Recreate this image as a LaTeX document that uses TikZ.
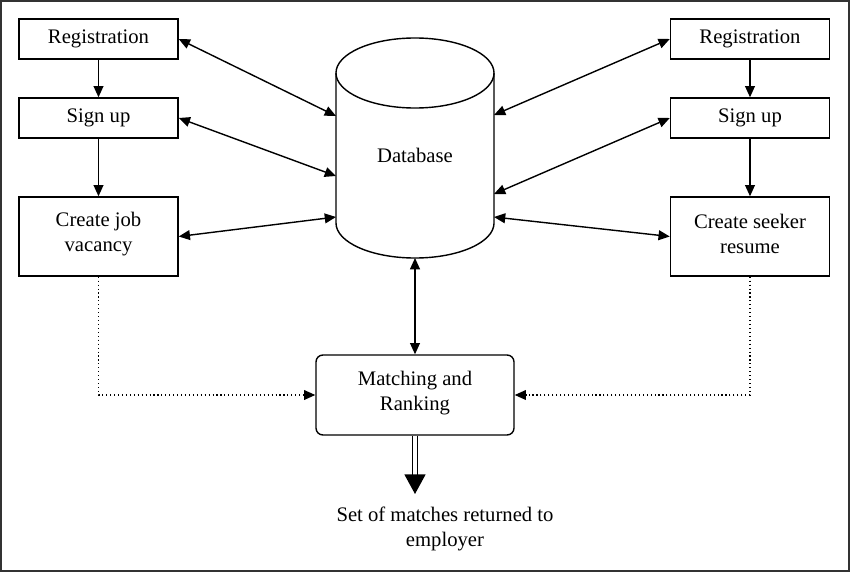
\documentclass[tikz,border=0pt]{standalone}
\usepackage{fontspec}
\setmainfont{Liberation Serif}
\usetikzlibrary{arrows.meta}

\tikzset{
  box/.style={draw, line width=1pt, minimum width=3.975cm, minimum height=1cm, align=center, inner sep=0pt},
  bigbox/.style={box, minimum height=1.975cm},
  link/.style={line width=1pt, {Triangle[length=8pt,width=7pt]}-{Triangle[length=8pt,width=7pt]}},
  flow/.style={line width=1pt, -{Triangle[length=8pt,width=7pt]}},
  feed/.style={line width=0.8pt, dotted, -{Triangle[length=8pt,width=7pt]}},
}

\begin{document}
\begin{tikzpicture}[x=0.025cm, y=-0.025cm, font=\fontsize{14.7}{17.8}\selectfont]
	\useasboundingbox (0,0) rectangle (850,573);
	\draw [line width=1.5pt, black!80] (1,1) rectangle (849,571);
	% employer side
	\node [box] (regl) at (98.5,39) {\raisebox{-2pt}{Registration}};
	\node [box] (sul) at (98.5,118) {\raisebox{-2pt}{Sign up}};
	\node [bigbox] (cjv) at (98.5,236.5) {};
	\node [align=center] (cjvtext) at (98.5,234) {Create job\\vacancy};
	% seeker side
	\node [box] (regr) at (750,39) {\raisebox{-2pt}{Registration}};
	\node [box] (sur) at (750,118) {\raisebox{-2pt}{Sign up}};
	\node [bigbox] (csr) at (750,236.5) {};
	\node [align=center] (csrtext) at (750,234) {Create seeker\\resume};
	% database
	\draw [line width=1pt, fill=white] (336,73) -- (336,223) arc [start angle=180, end angle=360, x radius=1.975cm, y radius=0.875cm] -- (494,73);
	\draw [line width=1pt] (415,73) ellipse [x radius=1.975cm, y radius=0.875cm];
	\node (db) at (415,155) {Database};
	\coordinate (dbl1) at (336,116);
	\coordinate (dbl2) at (336,176);
	\coordinate (dbl3) at (336,217);
	\coordinate (dbr1) at (494,115);
	\coordinate (dbr2) at (494,194);
	\coordinate (dbr3) at (494,217);
	\coordinate (dbb) at (415,258);
	% matching
	\node [box, minimum width=4.95cm, minimum height=2cm, rounded corners=5pt] (mr) at (415,395) {};
	\node [align=center] (mrtext) at (415,393) {Matching and\\Ranking};
	\node [align=center] (out) at (445,529) {Set of matches returned to\\employer};
	\coordinate (tip) at (415,475);

	\draw [flow] (regl) -- (sul);
	\draw [flow] (sul) -- (cjv);
	\draw [flow] (regr) -- (sur);
	\draw [flow] (sur) -- (csr);
	\draw [link] (regl.east) -- (dbl1);
	\draw [link] (sul.east) -- (dbl2);
	\draw [link] (cjv.east) -- (dbl3);
	\draw [link] (regr.west) -- (dbr1);
	\draw [link] (sur.west) -- (dbr2);
	\draw [link] (csr.west) -- (dbr3);
	\draw [link] (dbb) -- (mr.north);
	\draw [feed] (cjv.south) |- (mr.west);
	\draw [feed] (csr.south) |- (mr.east);
	\draw [line width=0.8pt, double, double distance=2.5pt] (mr.south) -- (tip);
	\draw [line width=1pt, -{Triangle[length=14pt,width=15pt]}] (tip) -- ++(0,19);
\end{tikzpicture}
\end{document}
